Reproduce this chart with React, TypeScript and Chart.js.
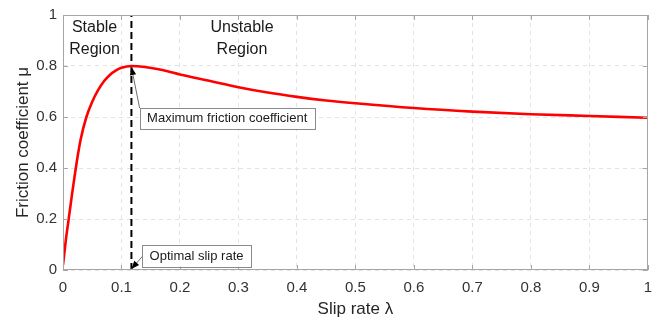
import React, { useEffect, useRef } from "react";
import { Chart, registerables } from "chart.js";

Chart.register(...registerables);

// ---- data ----
const slipRate = [0, 0.005, 0.01, 0.015, 0.02, 0.025, 0.03, 0.04, 0.05, 0.06, 0.07, 0.08, 0.09, 0.1, 0.117, 0.14, 0.17, 0.2, 0.25, 0.3, 0.35, 0.4, 0.45, 0.5, 0.6, 0.7, 0.8, 0.9, 1.0];
const frictionCoef = [0.02, 0.12, 0.205, 0.29, 0.37, 0.445, 0.51, 0.6, 0.66, 0.705, 0.74, 0.765, 0.782, 0.793, 0.8, 0.796, 0.784, 0.767, 0.742, 0.717, 0.696, 0.679, 0.665, 0.654, 0.635, 0.621, 0.611, 0.604, 0.597];
const xTicks = [0, 0.1, 0.2, 0.3, 0.4, 0.5, 0.6, 0.7, 0.8, 0.9, 1];
const yTicks = [0, 0.2, 0.4, 0.6, 0.8, 1];
const optimalSlip = 0.117;
const peakFriction = 0.8;
const stableLabel = ["Stable", "Region"];
const unstableLabel = ["Unstable", "Region"];
const maxLabel = "Maximum friction coefficient";
const optLabel = "Optimal slip rate";
const xTitle = "Slip rate λ";
const yTitle = "Friction coefficient μ";

const FONT = '"Liberation Sans", Arial, Helvetica, sans-serif';

function arrow(ctx: CanvasRenderingContext2D, x0: number, y0: number, x1: number, y1: number) {
  ctx.strokeStyle = "#6e6e6e";
  ctx.lineWidth = 1;
  ctx.beginPath();
  ctx.moveTo(x0, y0);
  ctx.lineTo(x1, y1);
  ctx.stroke();
  const ang = Math.atan2(y1 - y0, x1 - x0);
  const L = 8, W = 3.2;
  ctx.fillStyle = "#000";
  ctx.beginPath();
  ctx.moveTo(x1, y1);
  ctx.lineTo(x1 - L * Math.cos(ang) + W * Math.sin(ang), y1 - L * Math.sin(ang) - W * Math.cos(ang));
  ctx.lineTo(x1 - L * Math.cos(ang) - W * Math.sin(ang), y1 - L * Math.sin(ang) + W * Math.cos(ang));
  ctx.closePath();
  ctx.fill();
}

function textBox(ctx: CanvasRenderingContext2D, text: string, left: number, top: number, bottom: number) {
  ctx.font = "13px " + FONT;
  const w = ctx.measureText(text).width;
  const pad = 7.5;
  ctx.fillStyle = "#fff";
  ctx.fillRect(left, top, w + pad * 2, bottom - top);
  ctx.strokeStyle = "#8a8a8a";
  ctx.lineWidth = 1;
  ctx.strokeRect(Math.round(left) + 0.5, Math.round(top) + 0.5, Math.round(w + pad * 2), Math.round(bottom - top));
  ctx.fillStyle = "#1a1a1a";
  ctx.textAlign = "left";
  ctx.textBaseline = "middle";
  ctx.fillText(text, left + pad, (top + bottom) / 2 + 0.5);
}

const annotPlugin = {
  id: "annot",
  afterDatasetsDraw(chart: any) {
    const { ctx, chartArea: ca, scales } = chart;
    const xs = scales.x, ys = scales.y;
    ctx.save();
    // axes box
    ctx.strokeStyle = "#a6a6a6";
    ctx.lineWidth = 1;
    ctx.strokeRect(Math.round(ca.left) + 0.5, Math.round(ca.top) + 0.5, Math.round(ca.right - ca.left) - 1, Math.round(ca.bottom - ca.top) - 1);
    // inner ticks
    ctx.beginPath();
    xTicks.forEach((v) => {
      const px = Math.round(xs.getPixelForValue(v)) + 0.5;
      ctx.moveTo(px, ca.bottom); ctx.lineTo(px, ca.bottom - 5);
      ctx.moveTo(px, ca.top); ctx.lineTo(px, ca.top + 5);
    });
    yTicks.forEach((v) => {
      const py = Math.round(ys.getPixelForValue(v)) + 0.5;
      ctx.moveTo(ca.left, py); ctx.lineTo(ca.left + 5, py);
      ctx.moveTo(ca.right, py); ctx.lineTo(ca.right - 5, py);
    });
    ctx.stroke();

    // region labels
    ctx.fillStyle = "#1a1a1a";
    ctx.font = "16px " + FONT;
    ctx.textAlign = "center";
    ctx.textBaseline = "middle";
    const sx = xs.getPixelForValue(0.054);
    const ux = xs.getPixelForValue(0.306);
    const l1 = ys.getPixelForValue(0.949);
    const l2 = ys.getPixelForValue(0.864);
    ctx.fillText(stableLabel[0], sx, l1);
    ctx.fillText(stableLabel[1], sx, l2);
    ctx.fillText(unstableLabel[0], ux, l1);
    ctx.fillText(unstableLabel[1], ux, l2);

    // max friction callout
    const peakX = xs.getPixelForValue(optimalSlip);
    const peakY = ys.getPixelForValue(peakFriction);
    const b1L = xs.getPixelForValue(0.131);
    const b1T = ys.getPixelForValue(0.635);
    const b1B = ys.getPixelForValue(0.554);
    arrow(ctx, b1L, b1T, peakX, peakY + 1);
    textBox(ctx, maxLabel, b1L, b1T, b1B);

    // optimal slip callout
    const b2L = xs.getPixelForValue(0.1352);
    const b2T = ys.getPixelForValue(0.1);
    const b2B = ys.getPixelForValue(0.0127);
    const zeroY = ys.getPixelForValue(0);
    arrow(ctx, b2L + 1, (b2T + b2B) / 2, peakX, zeroY - 1);
    textBox(ctx, optLabel, b2L, b2T, b2B);
    ctx.restore();
  },
};

export default function App() {
  const ref = useRef<HTMLCanvasElement | null>(null);
  useEffect(() => {
    if (!ref.current) return;
    const chart = new Chart(ref.current, {
      type: "line",
      data: {
        datasets: [
          {
            label: "mu",
            data: slipRate.map((s, i) => ({ x: s, y: frictionCoef[i] })),
            borderColor: "#ff0000",
            borderWidth: 2.6,
            pointRadius: 0,
            cubicInterpolationMode: "monotone",
            fill: false,
          },
          {
            label: "opt",
            data: [
              { x: optimalSlip, y: 0 },
              { x: optimalSlip, y: 1 },
            ],
            borderColor: "#000",
            borderWidth: 2,
            borderDash: [7, 4],
            pointRadius: 0,
            fill: false,
          },
        ],
      },
      options: {
        animation: false,
        responsive: false,
        devicePixelRatio: 1,
        layout: { padding: { left: 0, top: 10, right: 13, bottom: 0 } },
        plugins: { legend: { display: false }, tooltip: { enabled: false } },
        scales: {
          x: {
            type: "linear",
            min: 0,
            max: 1,
            afterBuildTicks: (s: any) => { s.ticks = xTicks.map((v) => ({ value: v })); },
            afterFit: (s: any) => { s.height = 54; },
            ticks: {
              color: "#333",
              font: { size: 15, family: FONT },
              padding: 9,
              maxRotation: 0,
              callback: (v: any) => String(v),
            },
            grid: { color: "#e3e3e3", drawTicks: false, lineWidth: 1 },
            border: { display: false, dash: [4, 4] },
            title: { display: true, text: xTitle, color: "#262626", font: { size: 17, family: FONT }, padding: { top: 0, bottom: 4 } },
          },
          y: {
            type: "linear",
            min: 0,
            max: 1,
            afterBuildTicks: (s: any) => { s.ticks = yTicks.map((v) => ({ value: v })); },
            afterFit: (s: any) => { s.width = 63; },
            ticks: {
              color: "#333",
              font: { size: 15, family: FONT },
              padding: 6,
              callback: (v: any) => String(v),
            },
            grid: { color: "#e3e3e3", drawTicks: false, lineWidth: 1 },
            border: { display: false, dash: [4, 4] },
            title: { display: true, text: yTitle, color: "#262626", font: { size: 17, family: FONT }, padding: { top: 13, bottom: 0 } },
          },
        },
      },
      plugins: [annotPlugin],
    } as any);
    return () => chart.destroy();
  }, []);
  return (
    <div style={{ position: "fixed", left: 0, top: 0, width: 661, height: 324, background: "#fff" }}>
      <canvas ref={ref} width={661} height={324} style={{ display: "block" }} />
    </div>
  );
}
